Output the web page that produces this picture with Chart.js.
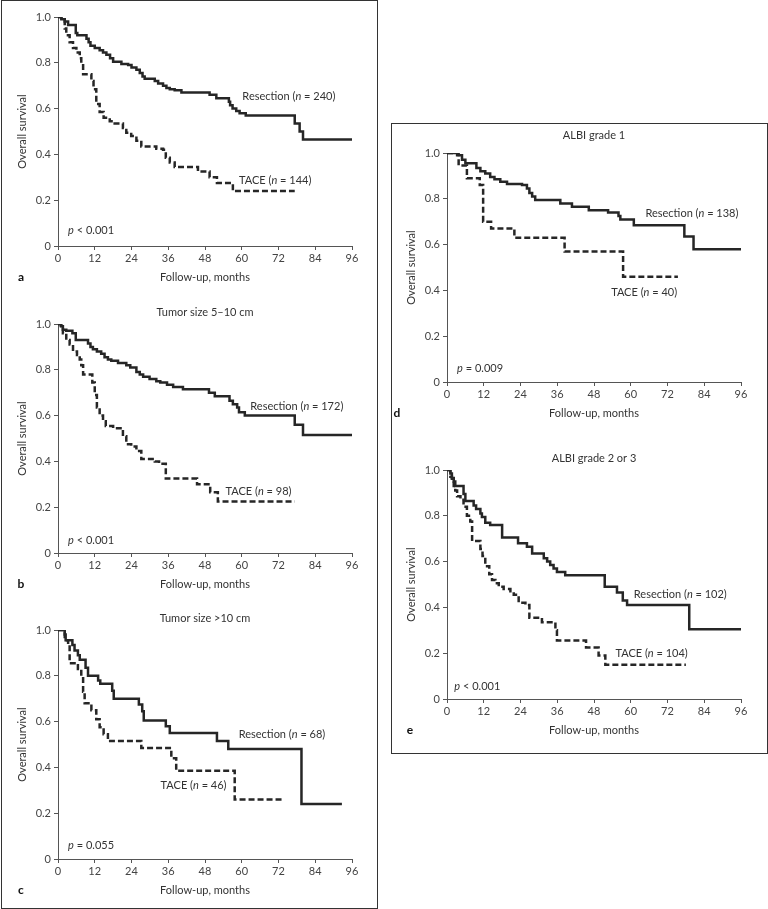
<!DOCTYPE html>
<html>
<head>
<meta charset="utf-8">
<script src="https://cdn.jsdelivr.net/npm/chart.js@4/dist/chart.umd.min.js"></script>
<style>
  body { margin: 0; background: #fff; }
  #page { position: relative; width: 768px; height: 909px; overflow: hidden; }
  .box { position: absolute; border: 1.5px solid #333; box-sizing: border-box; }
  canvas { position: absolute; }
</style>
</head>
<body>
<div id="page">
  <div class="box" style="left:1px; top:0px; width:377px; height:909px;"></div>
  <div class="box" style="left:391px; top:123px; width:377px; height:631px;"></div>
</div>
<script>
// tick values
var monthTicks = [0, 12, 24, 36, 48, 60, 72, 84, 96];
var survTicks = [0, 0.2, 0.4, 0.6, 0.8, 1.0];

// a - all patients
var aResMonths = [0, 1.1, 2.2, 3.3, 5.8, 6.3, 9.3, 10, 10.6, 12, 13.6, 14.7, 15.8, 17, 18, 20.7, 22.9, 24, 25.6, 26.7, 27.6, 28.3, 31.6, 32.7, 34.3, 35.4, 36.5, 38.1, 40.3, 49.5, 51.7, 55.8, 56.2, 57, 58.2, 59.3, 61.3, 77.3, 78.9, 80, 96];
var aResSurv = [1, 0.99, 0.98, 0.965, 0.93, 0.92, 0.905, 0.89, 0.875, 0.865, 0.855, 0.845, 0.835, 0.82, 0.805, 0.795, 0.79, 0.78, 0.77, 0.755, 0.74, 0.73, 0.72, 0.71, 0.70, 0.69, 0.685, 0.68, 0.67, 0.66, 0.645, 0.63, 0.615, 0.60, 0.59, 0.58, 0.57, 0.535, 0.50, 0.465, 0.465];
var aTaceMonths = [0, 1.1, 2.2, 2.7, 3.8, 4.9, 6, 7.1, 7.6, 8.2, 10.9, 11.6, 12.5, 13.6, 14.9, 16.9, 18.5, 21.2, 22.3, 23.9, 25.6, 27.2, 32.1, 34.3, 35.2, 36.5, 38.1, 45.7, 49.5, 51.9, 57.1, 77.3];
var aTaceSurv = [1, 0.985, 0.95, 0.92, 0.89, 0.865, 0.845, 0.82, 0.80, 0.75, 0.72, 0.685, 0.62, 0.585, 0.56, 0.545, 0.535, 0.515, 0.495, 0.48, 0.46, 0.435, 0.425, 0.42, 0.385, 0.365, 0.345, 0.325, 0.30, 0.275, 0.24, 0.24];

// b - tumor size 5-10 cm
var bResMonths = [0, 1.1, 1.6, 2.7, 4.7, 5.8, 9.8, 10.6, 11.4, 12.7, 14.1, 15.2, 16.3, 17.4, 19.6, 22.3, 23.6, 25.6, 26.7, 27.8, 29.9, 32.1, 33.4, 35.6, 37.6, 40.8, 49.3, 51.2, 56, 57.1, 58.5, 59.1, 61, 77.3, 80, 96];
var bResSurv = [1, 0.99, 0.975, 0.97, 0.96, 0.93, 0.915, 0.90, 0.89, 0.88, 0.87, 0.855, 0.845, 0.84, 0.83, 0.82, 0.81, 0.79, 0.78, 0.77, 0.76, 0.75, 0.745, 0.735, 0.725, 0.715, 0.70, 0.685, 0.665, 0.65, 0.635, 0.615, 0.60, 0.56, 0.515, 0.515];
var bTaceMonths = [0, 0.9, 1.6, 2.7, 3.8, 4.9, 6.2, 7.1, 7.6, 8.2, 11.2, 12, 12.7, 13.6, 14.7, 15.6, 18, 21.2, 22.3, 23.9, 25.6, 27.2, 31.6, 33, 35.2, 45.4, 49.7, 52.2, 77.3];
var bTaceSurv = [1, 0.985, 0.96, 0.93, 0.91, 0.88, 0.865, 0.845, 0.82, 0.78, 0.745, 0.69, 0.635, 0.60, 0.575, 0.555, 0.545, 0.51, 0.475, 0.465, 0.445, 0.41, 0.40, 0.39, 0.325, 0.30, 0.265, 0.225, 0.225];

// c - tumor size >10 cm
var cResMonths = [0, 2.2, 2.5, 4.7, 5.4, 6.5, 7.1, 9, 9.8, 13.1, 13.8, 17.7, 18.2, 26.4, 27.5, 28, 35.2, 36.5, 51.9, 55.6, 79.5, 92.7];
var cResSurv = [1, 0.98, 0.955, 0.935, 0.91, 0.89, 0.87, 0.835, 0.80, 0.78, 0.765, 0.735, 0.70, 0.675, 0.645, 0.605, 0.58, 0.55, 0.515, 0.48, 0.24, 0.24];
var cTaceMonths = [0, 2.2, 3.3, 3.8, 6.5, 7.6, 8.2, 8.7, 10.9, 12.5, 13.6, 14.9, 16.3, 27.2, 37, 38.6, 57.7, 73.5];
var cTaceSurv = [1, 0.955, 0.935, 0.855, 0.83, 0.80, 0.73, 0.68, 0.65, 0.61, 0.575, 0.545, 0.515, 0.485, 0.44, 0.385, 0.26, 0.26];

// d - ALBI grade 1
var dResMonths = [0, 3.3, 4.9, 6, 9.6, 10.9, 12.5, 14.1, 15.5, 17.4, 19.6, 24.5, 26.1, 26.9, 27.8, 28.8, 37, 40.8, 46.3, 52.6, 56, 56.6, 61, 77.5, 80.5, 96];
var dResSurv = [1, 0.99, 0.97, 0.955, 0.935, 0.92, 0.91, 0.895, 0.885, 0.875, 0.865, 0.86, 0.845, 0.825, 0.81, 0.795, 0.78, 0.765, 0.75, 0.74, 0.725, 0.71, 0.685, 0.635, 0.58, 0.58];
var dTaceMonths = [0, 3.8, 6.5, 10.7, 11.8, 14.4, 22, 38.4, 57.5, 75.4];
var dTaceSurv = [1, 0.945, 0.89, 0.86, 0.70, 0.67, 0.63, 0.57, 0.46, 0.46];

// e - ALBI grade 2 or 3
var eResMonths = [0, 1.1, 1.6, 2.2, 2.7, 5.4, 6, 8.7, 9.5, 10.9, 11.4, 12.5, 14.1, 18, 23.2, 26.1, 27.8, 31.6, 32.7, 33.7, 34.8, 35.9, 38.6, 51.5, 55.5, 57.4, 58.8, 79.1, 96];
var eResSurv = [1, 0.985, 0.965, 0.95, 0.93, 0.895, 0.865, 0.845, 0.83, 0.81, 0.795, 0.77, 0.76, 0.705, 0.68, 0.665, 0.635, 0.615, 0.60, 0.585, 0.57, 0.555, 0.54, 0.49, 0.465, 0.43, 0.41, 0.305, 0.305];
var eTaceMonths = [0, 1.1, 1.6, 2.2, 2.7, 3.3, 4.4, 5.4, 6.5, 7.6, 8.2, 10.9, 11.6, 12.5, 13.8, 14.7, 15.8, 16.9, 18.5, 20.7, 21.8, 23.4, 25.6, 26.9, 31, 35.4, 35.9, 45.4, 49.5, 51.7, 78];
var eTaceSurv = [1, 0.97, 0.95, 0.93, 0.91, 0.885, 0.87, 0.84, 0.80, 0.775, 0.69, 0.655, 0.625, 0.58, 0.545, 0.52, 0.505, 0.49, 0.48, 0.47, 0.455, 0.42, 0.41, 0.355, 0.335, 0.30, 0.255, 0.225, 0.19, 0.15, 0.15];

var FONT = 'Lato, "Open Sans", sans-serif';
var FS = 11;
var INK = "#262626";

// layout of each panel (plot area top-left corner on the page)
var panels = [
  { letter: "a", left: 58, top: 17, title: "", titleDy: 0, letterDx: -37,
    res: [aResMonths, aResSurv], tace: [aTaceMonths, aTaceSurv],
    resLabel: { x: 60.2, y: 0.654, text: "Resection (_n_ = 240)" },
    taceLabel: { x: 59.1, y: 0.287, text: "TACE (_n_ = 144)" },
    pLabel: { x: 3.3, y: 0.066, text: "_p_ < 0.001" } },
  { letter: "b", left: 58, top: 324, title: "Tumor size 5\u201310 cm", titleDy: -12, letterDx: -37,
    res: [bResMonths, bResSurv], tace: [bTaceMonths, bTaceSurv],
    resLabel: { x: 62.8, y: 0.642, text: "Resection (_n_ = 172)" },
    taceLabel: { x: 54.7, y: 0.269, text: "TACE (_n_ = 98)" },
    pLabel: { x: 3.3, y: 0.055, text: "_p_ < 0.001" } },
  { letter: "c", left: 58, top: 630, title: "Tumor size >10 cm", titleDy: -12, letterDx: -37,
    res: [cResMonths, cResSurv], tace: [cTaceMonths, cTaceSurv],
    resLabel: { x: 59, y: 0.546, text: "Resection (_n_ = 68)" },
    taceLabel: { x: 33.5, y: 0.323, text: "TACE (_n_ = 46)" },
    pLabel: { x: 3.3, y: 0.061, text: "_p_ = 0.055" } },
  { letter: "d", left: 447, top: 153, title: "ALBI grade 1", titleDy: -18, letterDx: -50,
    res: [dResMonths, dResSurv], tace: [dTaceMonths, dTaceSurv],
    resLabel: { x: 64.8, y: 0.738, text: "Resection (_n_ = 138)" },
    taceLabel: { x: 53.6, y: 0.392, text: "TACE (_n_ = 40)" },
    pLabel: { x: 3.3, y: 0.057, text: "_p_ = 0.009" } },
  { letter: "e", left: 447, top: 470, title: "ALBI grade 2 or 3", titleDy: -12, letterDx: -37,
    res: [eResMonths, eResSurv], tace: [eTaceMonths, eTaceSurv],
    resLabel: { x: 61, y: 0.457, text: "Resection (_n_ = 102)" },
    taceLabel: { x: 55, y: 0.2, text: "TACE (_n_ = 104)" },
    pLabel: { x: 2.4, y: 0.054, text: "_p_ < 0.001" } }
];

// text with _italic_ parts
function drawRich(ctx, str, x, y) {
  var parts = str.split("_");
  ctx.textBaseline = "middle";
  ctx.textAlign = "left";
  for (var i = 0; i < parts.length; i++) {
    if (!parts[i]) continue;
    ctx.font = (i % 2 ? "italic " : "") + FS + "px " + FONT;
    ctx.fillText(parts[i], x, y);
    x += ctx.measureText(parts[i]).width;
  }
}

var annotate = {
  id: "annotate",
  afterDraw: function (chart) {
    var p = chart.options.plugins.annotate.panel;
    var ctx = chart.ctx;
    var xs = chart.scales.x, ys = chart.scales.y, area = chart.chartArea;
    ctx.save();
    ctx.fillStyle = "#333";
    [p.resLabel, p.taceLabel, p.pLabel].forEach(function (l) {
      drawRich(ctx, l.text, xs.getPixelForValue(l.x), ys.getPixelForValue(l.y));
    });
    if (p.title) {
      ctx.font = FS + "px " + FONT;
      ctx.textAlign = "center";
      ctx.textBaseline = "middle";
      ctx.fillText(p.title, (area.left + area.right) / 2, area.top + p.titleDy);
    }
    ctx.font = "bold 12px " + FONT;
    ctx.textAlign = "center";
    ctx.textBaseline = "middle";
    ctx.fillStyle = "#111";
    ctx.fillText(p.letter, area.left + p.letterDx, area.bottom + 31);
    ctx.restore();
  }
};

function toPoints(months, surv) {
  return months.map(function (m, i) { return { x: m, y: surv[i] }; });
}

var page = document.getElementById("page");
panels.forEach(function (p) {
  var cv = document.createElement("canvas");
  cv.width = 372;
  cv.height = 309;
  cv.style.left = (p.left - 58) + "px";
  cv.style.top = (p.top - 30) + "px";
  page.appendChild(cv);

  new Chart(cv, {
    type: "line",
    data: {
      datasets: [
        {
          label: "Resection",
          data: toPoints(p.res[0], p.res[1]),
          borderColor: INK,
          borderWidth: 2.5,
          stepped: "before",
          pointRadius: 0,
          fill: false,
        },
        {
          label: "TACE",
          data: toPoints(p.tace[0], p.tace[1]),
          borderColor: INK,
          borderWidth: 2.5,
          borderDash: [6, 3],
          stepped: "before",
          pointRadius: 0,
          fill: false,
        },
      ],
    },
    options: {
      responsive: false,
      animation: false,
      events: [],
      layout: { padding: { top: 30, left: 0, right: 20, bottom: 0 } },
      plugins: {
        legend: { display: false },
        tooltip: { enabled: false },
        annotate: { panel: p },
      },
      scales: {
        x: {
          type: "linear",
          min: 0,
          max: 96,
          afterFit: function (s) { s.height = 50; },
          afterBuildTicks: function (s) { s.ticks = monthTicks.map(function (v) { return { value: v }; }); },
          ticks: {
            padding: 2,
            maxRotation: 0,
            autoSkip: false,
            color: "#444",
            font: { family: FONT, size: FS },
          },
          grid: { display: true, drawOnChartArea: false, drawTicks: true, tickLength: 4, color: "#555" },
          border: { display: true, color: "#555", width: 1 },
          title: {
            display: true,
            text: "Follow-up, months",
            color: "#333",
            padding: { top: 0, bottom: 12 },
            font: { family: FONT, size: FS },
          },
        },
        y: {
          min: 0,
          max: 1,
          afterFit: function (s) { s.width = 58; },
          afterBuildTicks: function (s) { s.ticks = survTicks.map(function (v) { return { value: v }; }); },
          ticks: {
            padding: 3,
            color: "#444",
            font: { family: FONT, size: FS },
            callback: function (v) { return v === 0 ? "0" : v.toFixed(1); },
          },
          grid: { display: true, drawOnChartArea: false, drawTicks: true, tickLength: 4, color: "#555" },
          border: { display: true, color: "#555", width: 1 },
          title: {
            display: true,
            text: "Overall survival",
            color: "#333",
            padding: { top: 16, bottom: 0 },
            font: { family: FONT, size: FS },
          },
        },
      },
    },
    plugins: [annotate],
  });
});
</script>
</body>
</html>
